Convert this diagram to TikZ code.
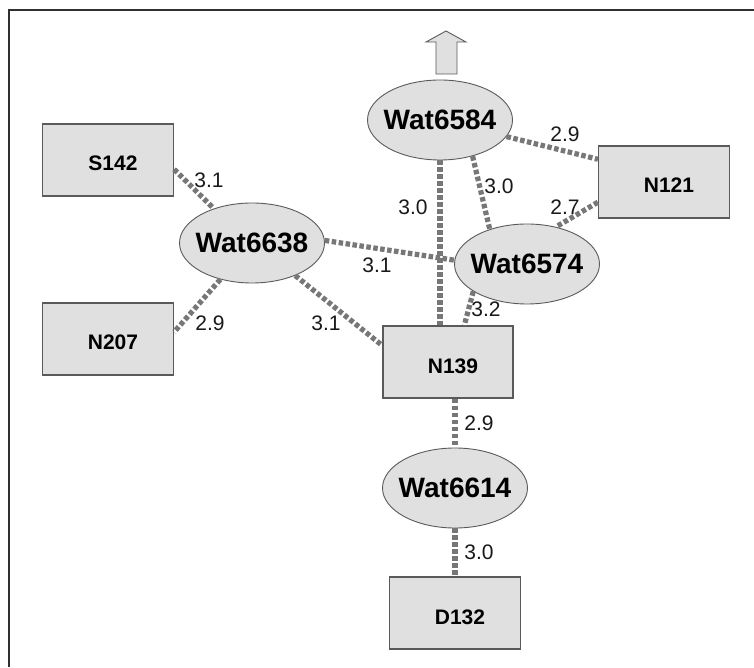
\documentclass[tikz,border=0pt]{standalone}
\usepackage{fontspec}
\setmainfont{Liberation Sans}
\usetikzlibrary{shapes.geometric}
\definecolor{boxfill}{HTML}{E0E0E0}
\definecolor{boxline}{HTML}{5A5A5A}
\definecolor{bondgray}{HTML}{777777}
\definecolor{framegray}{HTML}{303030}
\tikzset{
  water/.style={ellipse, draw=boxline, line width=0.9pt, fill=boxfill,
    minimum width=145pt, minimum height=80pt, inner xsep=-16pt, inner ysep=-14pt,
    font=\fontsize{28}{31}\selectfont\bfseries},
  residue/.style={rectangle, draw=boxline, line width=1.2pt, fill=boxfill,
    minimum width=131pt, minimum height=72pt, inner sep=0pt,
    text height=22pt, text depth=0pt,
    execute at begin node=\hspace*{10pt},
    font=\fontsize{21}{24}\selectfont\bfseries},
  hbond/.style={draw=bondgray, line width=5.2pt, dash pattern=on 4.5pt off 2.5pt},
  dist/.style={inner sep=0pt, font=\fontsize{21}{24}\selectfont, text=black!90}
}
\begin{document}
\begin{tikzpicture}[x=1pt, y=1pt]
\useasboundingbox (0,0) rectangle (754,667);
\fill[white] (0,0) rectangle (754,667);
% outer frame (only top and left edges fall inside the page)
\draw[framegray, line width=2.6pt] (9,0) -- (9,657) -- (754,657);

% block arrow above Wat6584
\draw[boxline, line width=0.9pt, fill=boxfill]
  (436,593) -- (436,625) -- (426,625) -- (446,636) -- (466,625) -- (457,625) -- (457,593) -- cycle;

% hydrogen-bond partners
\node[water]   (W84)  at (440,547) {Wat6584};
\node[residue] (N121) at (664,485) {N121};
\node[residue] (S142) at (108,507) {S142};
\node[water]   (W38)  at (252,424) {Wat6638};
\node[residue] (N207) at (108,328) {N207};
\node[water]   (W74)  at (527,403) {Wat6574};
\node[residue, minimum width=130pt] (N139) at (448,305) {N139};
\node[water]   (W14)  at (455,179) {Wat6614};
\node[residue] (D132) at (455,54)  {D132};

% hydrogen bonds
\draw[hbond] (W84.-14) -- (N121.161.3);
\draw[hbond] (W84.-48.5) -- (W74.137);
\draw[hbond] (W84.south) -- (W84.south |- N139.north);
\draw[hbond] (N121.197.6) -- (W74.52.4);
\draw[hbond] (S142.-8.6) -- (W38.138.3);
\draw[hbond] (W38.-131.2) -- (N207.6.1);
\draw[hbond] (W38.2.4) -- (W74.177.7);
\draw[hbond] (W38.-37.5) -- (N139.166.4);
\draw[hbond] (W74.207.5) -- (N139.66);
\draw[hbond] (N139.south -| W14.north) -- (W14.north);
\draw[hbond] (W14.south) -- (D132.north);

% distances
\node[dist] (d1)  at (565,533) {2.9};
\node[dist] (d2)  at (499,481) {3.0};
\node[dist] (d3)  at (413,460) {3.0};
\node[dist] (d4)  at (565,460) {2.7};
\node[dist] (d5)  at (209,487) {3.1};
\node[dist] (d6)  at (210,344) {2.9};
\node[dist] (d7)  at (326,344) {3.1};
\node[dist] (d8)  at (377,402) {3.1};
\node[dist] (d9)  at (486,358) {3.2};
\node[dist] (d10) at (479,244) {2.9};
\node[dist] (d11) at (479,115) {3.0};
\end{tikzpicture}
\end{document}
